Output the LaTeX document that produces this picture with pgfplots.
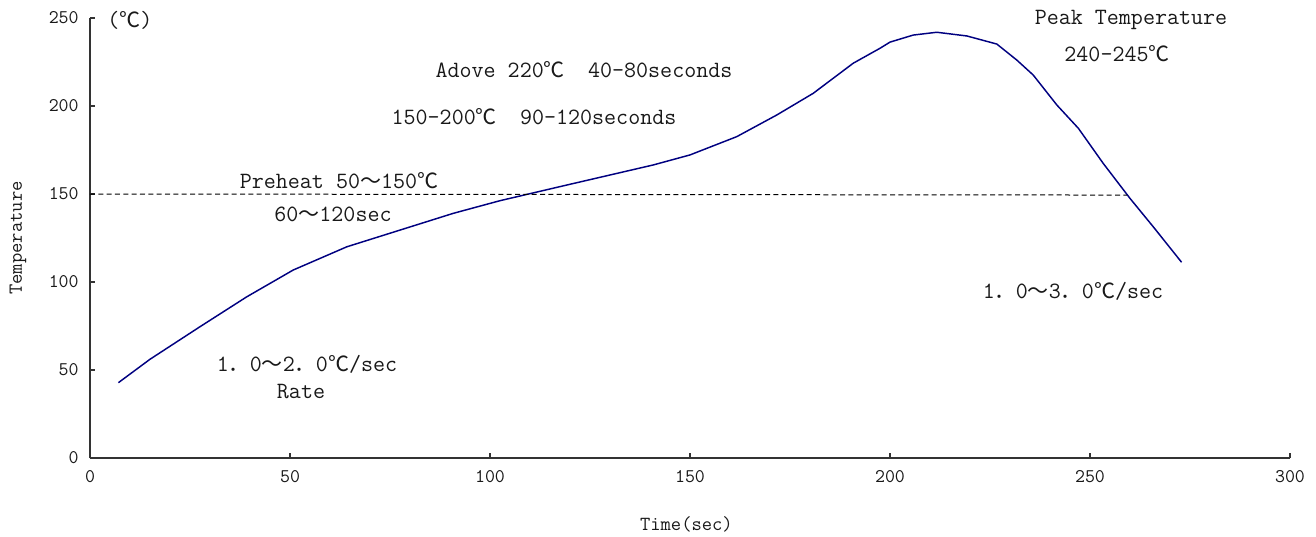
\documentclass[border=0pt]{standalone}
\usepackage{fontspec}
\newfontfamily\cjk[Scale=0.9]{Noto Sans CJK SC}
\usepackage{pgfplots}
\pgfplotsset{compat=1.18}
\newcommand{\dc}{{\cjk ℃}}
\newcommand{\wv}{{\cjk ～}}
\newcommand{\fp}{{\cjk ．}}
\definecolor{curve}{RGB}{0,0,128}
\definecolor{txt}{RGB}{25,25,25}

\begin{document}
\begin{tikzpicture}
\useasboundingbox (-67.5pt,-58.5pt) rectangle (919.5pt,343.5pt);
\begin{axis}[
    scale only axis,
    width=900pt, height=330pt,
    xmin=0, xmax=300, ymin=0, ymax=250,
    axis x line=bottom, axis y line=left,
    axis line style={-, line width=1.4pt, draw=black!80},
    xtick={0,50,...,300}, ytick={0,50,...,250},
    tick align=inside,
    major tick length=4pt,
    tick style={line width=0.9pt, black!80},
    /pgf/number format/assume math mode=true,
    ticklabel style={font=\ttfamily\fontsize{14.5}{15}\selectfont, text=txt},
    xticklabel style={yshift=-6pt},
    yticklabel style={xshift=-5pt},
    xlabel={Time(sec)}, ylabel={Temperature},
    label style={font=\ttfamily\fontsize{15}{16}\selectfont, text=txt},
    xlabel style={at={(axis description cs:0.497,-0.15)}, anchor=center},
    ylabel style={at={(axis description cs:-0.06,0.5)}, anchor=center},
    clip=false,
]
% profile curve
\addplot[curve, line width=1.1pt] coordinates {
    (7.1,42.8) (15,56.1) (27.5,74.6) (39.2,91.6) (50.8,106.8) (64.2,120)
    (77.5,129.5) (90.8,139) (102.5,146.2) (119.2,155.1) (140.8,166.5)
    (150,172.2) (161.7,182.6) (171.7,194.9) (180.8,207.2) (190.8,224.3)
    (197.5,232.8) (200,236.3) (205.8,240.3) (211.7,241.9) (219.2,239.8)
    (226.7,235.2) (231.7,226.1) (235.8,217.6) (241.7,200.6) (247.1,187.3)
    (253.3,167.4) (260,147.5) (265.8,131.4) (272.9,111.2)
};
% preheat line
\addplot[black, line width=0.75pt, dash pattern=on 3.75pt off 2.5pt] coordinates {
    (0,150) (259.2,149.4)
};
\begin{scope}[every node/.style={font=\ttfamily\fontsize{17.5}{20}\selectfont, text=txt, anchor=center, inner sep=0pt}]
\node at (axis cs:10,248.9) {(\dc)};
\node at (axis cs:123.5,220.5) {Adove 220\dc\quad 40-80seconds};
\node at (axis cs:111,193.7) {150-200\dc\quad 90-120seconds};
\node at (axis cs:260.25,248.9) {Peak Temperature};
\node at (axis cs:256.75,230) {240-245\dc};
\node at (axis cs:62.25,157.4) {Preheat 50\wv150\dc};
\node at (axis cs:60.75,138.6) {60\wv120sec};
\node at (axis cs:54.25,53.4) {1\fp0\wv2\fp0\dc/sec};
\node at (axis cs:52.75,37.5) {Rate};
\node at (axis cs:245.75,94.9) {1\fp0\wv3\fp0\dc/sec};
\end{scope}
\end{axis}
\end{tikzpicture}
\end{document}
